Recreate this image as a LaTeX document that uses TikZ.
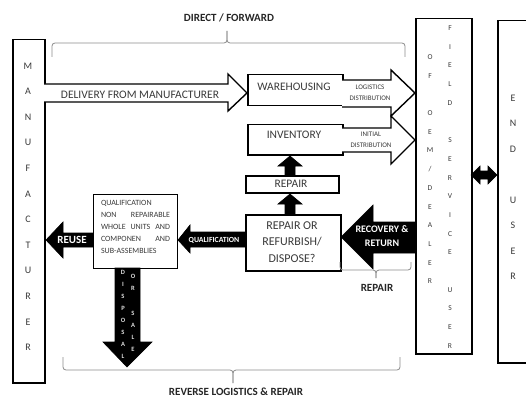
\documentclass[tikz,border=0pt]{standalone}
\usepackage{fontspec}
\setmainfont{Carlito}
\definecolor{txt}{HTML}{3A3A3A}
\definecolor{ttl}{HTML}{262626}
\definecolor{brcol}{HTML}{8C8C8C}
\newcommand{\jrow}[1]{\hbox to 69pt{#1}}
\begin{document}
\begin{tikzpicture}[x=1pt,y=-1pt,
  box/.style={draw=black,line width=1.5pt,fill=white,inner sep=0pt,anchor=north west},
  lab/.style={text=txt,font=\fontsize{11.5}{13}\selectfont,inner sep=0pt},
  small/.style={text=txt,font=\fontsize{7}{11}\selectfont,inner sep=0pt,align=center},
  wlab/.style={text=white,font=\bfseries\fontsize{10}{14}\selectfont,inner sep=0pt,align=center},
  ttlab/.style={text=ttl,font=\bfseries\fontsize{11}{12}\selectfont,inner sep=0pt},
  vlet/.style={text=txt,font=\fontsize{7.5}{9}\selectfont,inner sep=0pt},
  blk/.style={fill=black,draw=black,line width=0.6pt,line join=miter},
  hollow/.style={fill=white,draw=black,line width=1.4pt,line join=miter},
  brc/.style={draw=brcol,line width=0.8pt,rounded corners=3pt}]
\clip (0,0) rectangle (526,398);
\fill[white] (0,0) rectangle (526,398);

% ---- boxes
\node[box,minimum width=32pt,minimum height=343pt] (manu) at (12,39) {};
\node[box,minimum width=95pt,minimum height=31pt] (ware) at (247,74) {};
\node[box,minimum width=95pt,minimum height=30pt] (inv) at (247,124) {};
\node[box,minimum width=93pt,minimum height=17pt] (rep) at (245,175) {};
\node[box,minimum width=95pt,minimum height=56pt] (rord) at (245,214) {};
\node[box,line width=1.2pt,minimum width=84pt,minimum height=74pt] (qual) at (93,194) {};
\node[box,minimum width=56pt,minimum height=335pt] (oem) at (415,18) {};
\node[box,minimum width=45pt,minimum height=342pt] (endu) at (497,20) {};

% ---- hollow arrows
\draw[hollow] (44,84) -- (228,84) -- (228,74) -- (247,93) -- (228,111) -- (228,102) -- (44,102) ;
\draw[hollow] (342,128) -- (391,128) -- (391,116) -- (415,140) -- (391,164) -- (391,152) -- (342,152);
\draw[hollow] (342,80) -- (391,80) -- (391,70) -- (415,93) -- (391,116) -- (391,107) -- (342,107);

% ---- black arrows
\draw[blk] (285,175) -- (285,166) -- (278,166) -- (290,156) -- (302,166) -- (295,166) -- (295,175) -- cycle;
\draw[blk] (285,214) -- (285,204) -- (278,204) -- (290,194) -- (302,204) -- (295,204) -- (295,214) -- cycle;
\draw[blk] (415,222) -- (373,222) -- (373,205) -- (341,237) -- (373,269) -- (373,253) -- (415,253) -- cycle;
\draw[blk] (245,232) -- (190,232) -- (190,225) -- (178,240) -- (190,253) -- (190,247) -- (245,247) -- cycle;
\draw[blk] (93,233) -- (63,233) -- (63,222) -- (46,240) -- (63,258) -- (63,247) -- (93,247) -- cycle;
\draw[blk] (115,268) -- (115,342) -- (103,342) -- (127,367) -- (152,342) -- (140,342) -- (140,268) -- cycle;
\draw[blk] (471,175) -- (480,166) -- (480,171) -- (488,171) -- (488,166) -- (497,175) -- (488,184) -- (488,179) -- (480,179) -- (480,184) -- cycle;

% ---- braces
\draw[brc] (52,57) -- (52,43) -- (227,43) -- (227,31);
\draw[brc] (227,31) -- (227,43) -- (405,43) -- (405,57);
\draw[brc] (63,357) -- (63,370) -- (233,370) -- (233,383);
\draw[brc] (233,383) -- (233,370) -- (400,370) -- (400,357);
\draw[brc] (340,262) -- (340,270) -- (376,270) -- (376,278);
\draw[brc] (376,278) -- (376,270) -- (411,270) -- (411,262);

% ---- labels
\node[ttlab] (tdir) at (229,18) {DIRECT / FORWARD};
\node[ttlab] (trev) at (236,392) {REVERSE LOGISTICS \& REPAIR};
\node[ttlab] (trep) at (377,288) {REPAIR};
\node[lab] (tdel) at (140,95) {DELIVERY FROM MANUFACTURER};
\node[lab] (tware) at (294,87) {WAREHOUSING};
\node[lab] (tinv) at (294,135) {INVENTORY};
\node[lab] (trepb) at (291,184) {REPAIR};
\node[lab,align=center,font=\fontsize{12}{16.5}\selectfont] (trord) at (292,242) {REPAIR OR\\REFURBISH/\\DISPOSE?};
\node[small] (tlog) at (370,92.5) {LOGISTICS\\DISTRIBUTION};
\node[small] (tini) at (371,139.5) {INITIAL\\DISTRIBUTION};
\node[wlab] (trec) at (382,236) {RECOVERY \&\\RETURN};
\node[wlab,font=\bfseries\fontsize{7.8}{9}\selectfont] (tqa) at (214,240) {QUALIFICATION};
\node[wlab,font=\bfseries\fontsize{11}{12}\selectfont] (treu) at (72,240) {REUSE};
\node[text=txt,font=\fontsize{8}{12}\selectfont,inner sep=0pt,align=left] (tqual) at (135.5,227)
  {\jrow{QUALIFICATION\hfill}\\\jrow{NON\hfill REPAIRABLE}\\\jrow{WHOLE\hfill UNITS\hfill AND}\\\jrow{COMPONEN\hfill AND}\\\jrow{SUB-ASSEMBLIES\hfill}};

% ---- vertical letters
\foreach \c [count=\i from 0] in {M,A,N,U,F,A,C,T,U,R,E,R}
  \node[vlet,font=\fontsize{10}{10}\selectfont] (mf\i) at (28,66+25.6*\i) {\c};
\foreach \c [count=\i from 0] in {O,F,{},O,E,M,/,D,E,A,L,E,R}
  \node[vlet] (oa\i) at (430,57+18.7*\i) {\c};
\foreach \c [count=\i from 0] in {F,I,E,L,D,{},S,E,R,V,I,C,E,{},U,S,E,R}
  \node[vlet] (ob\i) at (450,28+18.7*\i) {\c};
\foreach \c [count=\i from 0] in {E,N,D,{},U,S,E,R}
  \node[vlet,font=\fontsize{10}{10}\selectfont] (eu\i) at (513,98+25.5*\i) {\c};
\foreach \c [count=\i from 0] in {D,I,S,P,O,S,A,L}
  \node[text=gray!25,font=\bfseries\fontsize{6.5}{7}\selectfont,inner sep=0pt] (da\i) at (123,272+12.1*\i) {\c};
\foreach \c [count=\i from 0] in {O,R,{},S,A,L,E}
  \node[text=gray!25,font=\bfseries\fontsize{6.5}{7}\selectfont,inner sep=0pt] (db\i) at (133,276+12.3*\i) {\c};
\end{tikzpicture}
\end{document}
